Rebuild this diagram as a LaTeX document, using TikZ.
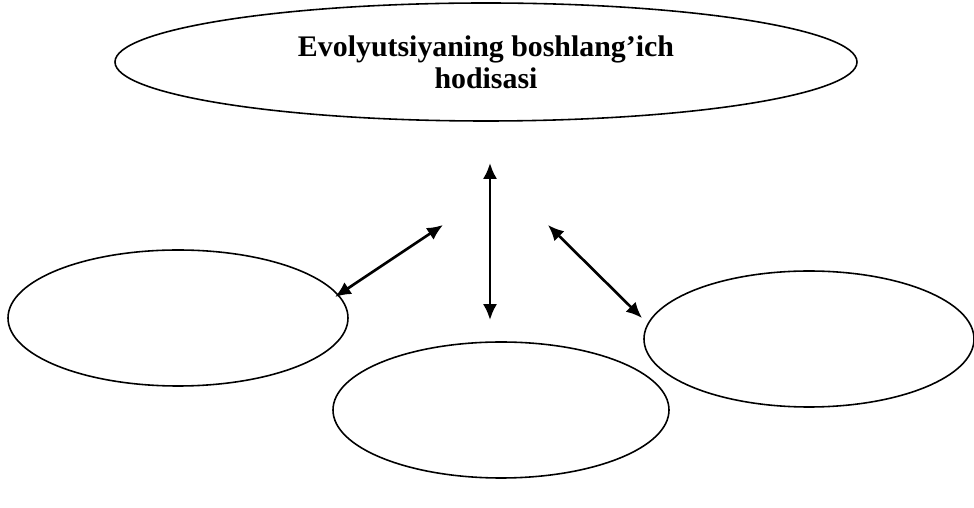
\documentclass[tikz,border=0pt]{standalone}
\usepackage{fontspec}
\setmainfont{Liberation Serif}
\usetikzlibrary{shapes.geometric,arrows.meta}
\tikzset{>={Latex[length=9pt,width=8pt]}}
\tikzset{bubble/.style={ellipse, draw, line width=0.9pt, inner sep=0pt}}

\begin{document}
\begin{tikzpicture}
    \useasboundingbox (0,0) rectangle (19.48,10.16);

    \node[bubble, minimum width=14.84cm, minimum height=2.36cm, align=center,
          font=\bfseries\fontsize{17}{18}\selectfont] at (9.72,8.92) (top)
          {Evolyutsiyaning boshlang’ich\\hodisasi};

    \node[bubble, minimum width=6.8cm, minimum height=2.72cm] at (3.56,3.8) (left) {};
    \node[bubble, minimum width=6.72cm, minimum height=2.72cm] at (10.02,1.96) (bottom) {};
    \node[bubble, minimum width=6.6cm, minimum height=2.72cm] at (16.18,3.38) (right) {};

    \coordinate (l1) at (6.70,4.22);
    \coordinate (l2) at (8.86,5.66);
    \coordinate (m1) at (9.80,6.90);
    \coordinate (m2) at (9.80,3.76);
    \coordinate (r1) at (10.96,5.66);
    \coordinate (r2) at (12.84,3.80);

    \draw[<->, line width=1.5pt] (l1) -- (l2);
    \draw[<->, line width=1.5pt] (m1) -- (m2);
    \draw[<->, line width=1.5pt] (r1) -- (r2);

\end{tikzpicture}
\end{document}
